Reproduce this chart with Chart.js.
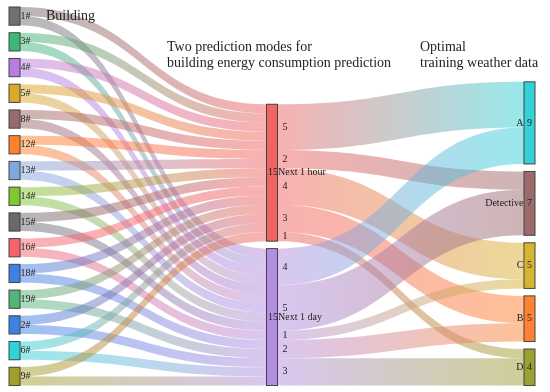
<!DOCTYPE html>
<html>
<head>
<meta charset="utf-8">
<script src="https://cdn.jsdelivr.net/npm/chart.js@4"></script>
<style>
  body { margin: 0; background: #fff; }
</style>
</head>
<body>
<canvas id="myChart" width="550" height="392"></canvas>
<script>
// columns of the sankey
const buildings = ['1#', '3#', '4#', '5#', '8#', '12#', '13#', '14#', '15#', '16#', '18#', '19#', '2#', '6#', '9#'];
const buildingColors = ['#707070', '#3cb878', '#b77ee0', '#dcaa28', '#9a6a6a', '#ff8228', '#7fa8dc', '#7ec832',
  '#6a6a6a', '#f5646e', '#4080e6', '#52b676', '#3c82e6', '#30d4d8', '#a0a028'];
const modes = ['Next 1 hour', 'Next 1 day'];
const modeColors = ['#f06464', '#b48ee0'];
const weather = ['A', 'Detective', 'C', 'B', 'D'];
const weatherColors = ['#32d2d8', '#9c6a6a', '#d8b432', '#ff8232', '#9ca032'];

// flows
const buildingToHour = [1, 1, 1, 1, 1, 1, 1, 1, 1, 1, 1, 1, 1, 1, 1];
const buildingToDay = [1, 1, 1, 1, 1, 1, 1, 1, 1, 1, 1, 1, 1, 1, 1];
const hourToWeather = [5, 2, 4, 3, 1];
const dayToWeather = [4, 5, 1, 2, 3];

const PAD = 0.82;
const NODE_W = 11;

// build nodes + links
const nodes = [];
buildings.forEach((b, i) => nodes.push({ name: b, col: 0, color: buildingColors[i], showValue: false }));
modes.forEach((m, i) => nodes.push({ name: m, col: 1, color: modeColors[i], showValue: true }));
weather.forEach((w, i) => nodes.push({ name: w, col: 2, color: weatherColors[i], showValue: true }));
const links = [];
buildings.forEach((b, i) => {
  links.push({ s: i, t: 15, v: buildingToHour[i] });
  links.push({ s: i, t: 16, v: buildingToDay[i] });
});
weather.forEach((w, j) => links.push({ s: 15, t: 17 + j, v: hourToWeather[j], label: true }));
weather.forEach((w, j) => links.push({ s: 16, t: 17 + j, v: dayToWeather[j], label: true }));

// simple layout, bottom aligned columns
nodes.forEach((n, i) => {
  let inV = 0, outV = 0;
  links.forEach(l => { if (l.t === i) inV += l.v; if (l.s === i) outV += l.v; });
  n.value = Math.max(inV, outV);
});
const spans = [0, 1, 2].map(c => {
  const col = nodes.filter(n => n.col === c);
  return col.reduce((a, n) => a + n.value, 0) + (col.length - 1) * PAD;
});
const maxSpan = Math.max(...spans);
[0, 1, 2].forEach(c => {
  let y = maxSpan - spans[c];
  nodes.filter(n => n.col === c).forEach(n => {
    n.y0 = y; n.y1 = y + n.value; y = n.y1 + PAD;
  });
});
nodes.forEach((n, i) => {
  let so = n.y0, to = n.y0;
  links.filter(l => l.s === i).sort((a, b) => nodes[a.t].y0 - nodes[b.t].y0)
    .forEach(l => { l.sy0 = so; so += l.v; l.sy1 = so; });
  links.filter(l => l.t === i).sort((a, b) => nodes[a.s].y0 - nodes[b.s].y0)
    .forEach(l => { l.ty0 = to; to += l.v; l.ty1 = to; });
});

function rgba(hex, a) {
  const v = parseInt(hex.slice(1), 16);
  return 'rgba(' + (v >> 16) + ',' + ((v >> 8) & 255) + ',' + (v & 255) + ',' + a + ')';
}

const sankeyPlugin = {
  id: 'sankey',
  afterDatasetsDraw(chart) {
    const ctx = chart.ctx;
    const x = chart.scales.x, y = chart.scales.y;
    ctx.save();
    // links
    links.forEach(l => {
      const sn = nodes[l.s], tn = nodes[l.t];
      const xs = x.getPixelForValue(sn.col) + NODE_W / 2;
      const xt = x.getPixelForValue(tn.col) - NODE_W / 2;
      const xm = (xs + xt) / 2;
      const a0 = y.getPixelForValue(l.sy0), a1 = y.getPixelForValue(l.sy1);
      const b0 = y.getPixelForValue(l.ty0), b1 = y.getPixelForValue(l.ty1);
      const g = ctx.createLinearGradient(xs, 0, xt, 0);
      g.addColorStop(0, rgba(sn.color, 0.5));
      g.addColorStop(1, rgba(tn.color, 0.5));
      ctx.fillStyle = g;
      ctx.beginPath();
      ctx.moveTo(xs, a0);
      ctx.bezierCurveTo(xm, a0, xm, b0, xt, b0);
      ctx.lineTo(xt, b1);
      ctx.bezierCurveTo(xm, b1, xm, a1, xs, a1);
      ctx.closePath();
      ctx.fill();
    });
    // nodes
    nodes.forEach(n => {
      const cx = x.getPixelForValue(n.col);
      const top = y.getPixelForValue(n.y0), bot = y.getPixelForValue(n.y1);
      ctx.fillStyle = n.color;
      ctx.fillRect(cx - NODE_W / 2, top, NODE_W, bot - top);
      ctx.strokeStyle = '#444';
      ctx.lineWidth = 1;
      ctx.strokeRect(cx - NODE_W / 2, top, NODE_W, bot - top);
    });
    // labels
    ctx.fillStyle = '#222';
    ctx.font = '10px "Liberation Serif", serif';
    ctx.textBaseline = 'middle';
    nodes.forEach(n => {
      const cx = x.getPixelForValue(n.col);
      const cy = (y.getPixelForValue(n.y0) + y.getPixelForValue(n.y1)) / 2;
      if (n.col < 2) {
        ctx.textAlign = 'left';
        ctx.fillText(n.name, cx + NODE_W / 2 + 0.5, cy);
        if (n.showValue) {
          ctx.textAlign = 'right';
          ctx.fillText(String(n.value), cx + NODE_W / 2 + 0.5, cy);
        }
      } else {
        ctx.textAlign = 'right';
        ctx.fillText(n.name, cx - NODE_W / 2 - 0.5, cy);
        ctx.textAlign = 'center';
        ctx.fillText(String(n.value), cx, cy);
      }
    });
    ctx.textAlign = 'left';
    links.filter(l => l.label).forEach(l => {
      const sn = nodes[l.s];
      const px = x.getPixelForValue(sn.col) + NODE_W / 2 + 5;
      const py = (y.getPixelForValue(l.sy0) + y.getPixelForValue(l.sy1)) / 2;
      ctx.fillText(String(l.v), px, py);
    });
    // column titles
    ctx.font = '14px "Liberation Serif", serif';
    ctx.textBaseline = 'middle';
    ctx.fillText('Building', 46, 16);
    ctx.fillText('Two prediction modes for', 167, 47);
    ctx.fillText('building energy consumption prediction', 167, 63);
    ctx.fillText('Optimal', 420, 47);
    ctx.fillText('training weather data', 420, 63);
    ctx.restore();
  }
};

const config = {
  type: 'scatter',
  data: {
    datasets: [{
      data: nodes.map(n => ({ x: n.col, y: (n.y0 + n.y1) / 2 })),
      pointRadius: 0
    }]
  },
  options: {
    responsive: false,
    animation: false,
    devicePixelRatio: 1,
    layout: { padding: { left: 14.5, right: 20.5, top: 7, bottom: 6.5 } },
    scales: {
      x: { type: 'linear', min: 0, max: 2, display: false },
      y: { type: 'linear', min: 0, max: maxSpan, reverse: true, display: false }
    },
    plugins: { legend: { display: false }, tooltip: { enabled: false } }
  },
  plugins: [sankeyPlugin]
};

const myChart = new Chart(document.getElementById('myChart'), config);
</script>
</body>
</html>
